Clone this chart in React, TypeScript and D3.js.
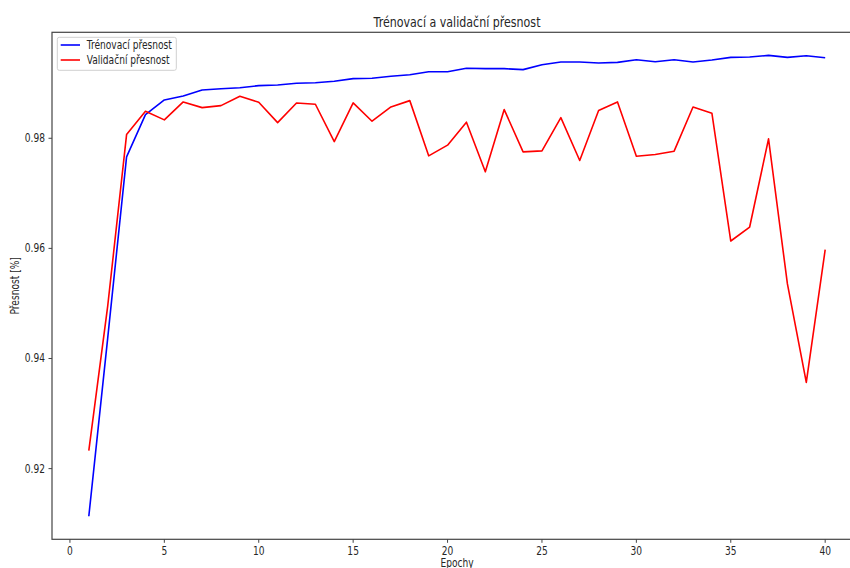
import React from "react";
import * as d3 from "d3";

// Epoch numbers and per-epoch accuracies
const epochs: number[] = Array.from({ length: 40 }, (_, i) => i + 1);

const trainAcc: number[] = [
  0.91135, 0.9437, 0.97663, 0.9843, 0.98696, 0.98769, 0.98878, 0.98901, 0.98919, 0.98956,
  0.98968, 0.98999, 0.9901, 0.99035, 0.99083, 0.9909, 0.99126, 0.99155, 0.99209, 0.99209,
  0.99271, 0.99265, 0.99265, 0.99247, 0.99337, 0.99385, 0.99385, 0.99367, 0.99379, 0.99427,
  0.99391, 0.99427, 0.99385, 0.99421, 0.9947, 0.99476, 0.99506, 0.9947, 0.995, 0.99464,
];

const valAcc: number[] = [
  0.92326, 0.9495, 0.98067, 0.98491, 0.98334, 0.9866, 0.98557, 0.98593, 0.98763, 0.98654,
  0.98285, 0.98642, 0.98618, 0.9794, 0.98642, 0.9831, 0.98569, 0.98684, 0.97681, 0.97875,
  0.98292, 0.97391, 0.98521, 0.97753, 0.97772, 0.98376, 0.97596, 0.98503, 0.9866, 0.97675,
  0.97705, 0.97766, 0.98569, 0.98455, 0.96134, 0.96388, 0.97989, 0.95354, 0.93565, 0.95976,
];

const xTicks: number[] = [0, 5, 10, 15, 20, 25, 30, 35, 40];
const yTicks: number[] = [0.92, 0.94, 0.96, 0.98];

const seriesNames: string[] = ["Trénovací přesnost", "Validační přesnost"];
const seriesColors: string[] = ["#0000ff", "#ff0000"];

const W = 850;
const H = 568;
const plot = { left: 52, right: 862, top: 32.3, bottom: 539.3 };
const FONT = "'DejaVu Sans', sans-serif";
const TEXT_COLOR = "#262626";
const SQUASH = 0.79;

function Label(props: {
  x: number;
  y: number;
  text: string;
  anchor?: "start" | "middle" | "end";
  size?: number;
  rotate?: number;
}) {
  const { x, y, text, anchor = "start", size = 11.5, rotate = 0 } = props;
  const t = rotate
    ? `translate(${x},${y}) rotate(${rotate}) scale(${SQUASH},1)`
    : `translate(${x},${y}) scale(${SQUASH},1)`;
  return (
    <text
      transform={t}
      textAnchor={anchor}
      fontFamily={FONT}
      fontSize={size}
      fill={TEXT_COLOR}
    >
      {text}
    </text>
  );
}

export default function App() {
  const x = d3.scaleLinear().domain([-0.95, 41.95]).range([plot.left, plot.right]);
  const y = d3.scaleLinear().domain([0.90716, 0.99925]).range([plot.bottom, plot.top]);

  const line = d3
    .line<[number, number]>()
    .x((d) => x(d[0]))
    .y((d) => y(d[1]));

  const series = [trainAcc, valAcc].map((vals) =>
    epochs.map((e, i) => [e, vals[i]] as [number, number])
  );

  const axisColor = "#444";
  const cx = (plot.left + plot.right) / 2;

  return (
    <svg
      width={W}
      height={H}
      style={{ position: "absolute", left: 0, top: 0, background: "#fff" }}
    >
      <rect x={0} y={0} width={W} height={H} fill="#fff" />
      <defs>
        <clipPath id="plot-clip">
          <rect
            x={plot.left}
            y={plot.top}
            width={plot.right - plot.left}
            height={plot.bottom - plot.top}
          />
        </clipPath>
      </defs>

      {/* data lines */}
      <g clipPath="url(#plot-clip)">
        {series.map((s, i) => (
          <path
            key={i}
            d={line(s) ?? ""}
            fill="none"
            stroke={seriesColors[i]}
            strokeWidth={1.6}
            strokeLinejoin="round"
          />
        ))}
      </g>

      {/* frame */}
      <rect
        x={plot.left}
        y={plot.top}
        width={plot.right - plot.left}
        height={plot.bottom - plot.top}
        fill="none"
        stroke={axisColor}
        strokeWidth={1.2}
      />

      {/* x axis ticks */}
      {xTicks.map((t) => (
        <g key={`x${t}`}>
          <line
            x1={x(t)}
            x2={x(t)}
            y1={plot.bottom}
            y2={plot.bottom + 3.5}
            stroke={axisColor}
            strokeWidth={1}
          />
          <Label x={x(t)} y={554.5} text={String(t)} anchor="middle" />
        </g>
      ))}

      {/* y axis ticks */}
      {yTicks.map((t) => (
        <g key={`y${t}`}>
          <line
            x1={plot.left - 3.5}
            x2={plot.left}
            y1={y(t)}
            y2={y(t)}
            stroke={axisColor}
            strokeWidth={1}
          />
          <Label x={45} y={y(t) + 4} text={t.toFixed(2)} anchor="end" />
        </g>
      ))}

      {/* title and axis labels */}
      <Label x={cx} y={27} text="Trénovací a validační přesnost" anchor="middle" size={14} />
      <Label x={cx} y={566.5} text="Epochy" anchor="middle" />
      <Label
        x={19}
        y={(plot.top + plot.bottom) / 2}
        text="Přesnost [%]"
        anchor="middle"
        rotate={-90}
      />

      {/* legend */}
      <g>
        <rect
          x={57.3}
          y={37.3}
          width={119}
          height={33}
          rx={2}
          fill="#fff"
          fillOpacity={0.8}
          stroke="#d0d0d0"
          strokeWidth={1}
        />
        {seriesNames.map((name, i) => (
          <g key={name}>
            <line
              x1={60.7}
              x2={80}
              y1={45 + i * 15}
              y2={45 + i * 15}
              stroke={seriesColors[i]}
              strokeWidth={1.6}
            />
            <Label x={86.7} y={49 + i * 15} text={name} />
          </g>
        ))}
      </g>
    </svg>
  );
}
